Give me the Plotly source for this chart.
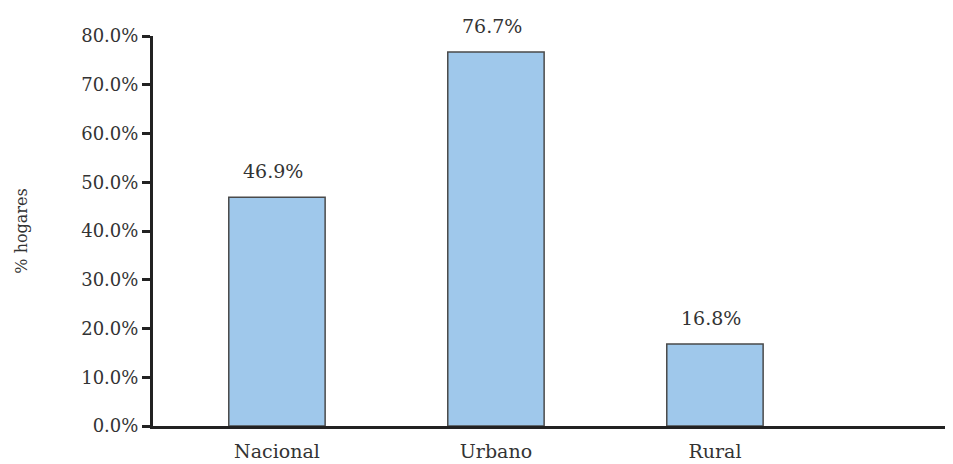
import plotly.graph_objects as go

categories = ["Nacional", "Urbano", "Rural"]
values = [46.9, 76.7, 16.8]
labels = ["46.9%", "76.7%", "16.8%"]
y_ticks = [0, 10, 20, 30, 40, 50, 60, 70, 80]
y_tick_labels = ["0.0%", "10.0%", "20.0%", "30.0%", "40.0%", "50.0%", "60.0%", "70.0%", "80.0%"]

FONT = "DejaVu Serif"

fig = go.Figure()
fig.add_trace(go.Bar(
    x=categories, y=values, width=0.44,
    marker=dict(color="#9fc8eb", line=dict(color="#4a4a4a", width=1.5)),
    hoverinfo="skip",
))
for c, v, t in zip(categories, values, labels):
    fig.add_annotation(x=c, y=v, text=t, showarrow=False, yshift=26, xshift=-4,
                       font=dict(family=FONT, size=19, color="#333"))

fig.update_layout(
    width=945, height=456,
    margin=dict(l=145, r=0, t=28, b=38),
    paper_bgcolor="white", plot_bgcolor="white",
    showlegend=False,
    font=dict(family=FONT, size=17, color="#333"),
)
fig.update_xaxes(
    type="category", range=[-0.566, 3.087],
    showline=True, linecolor="#222", linewidth=3,
    ticks="", showgrid=False, zeroline=False,
    ticklabelstandoff=6,
    tickfont=dict(family=FONT, size=19, color="#333"),
)
fig.update_yaxes(
    range=[0, 80], tickvals=y_ticks, ticktext=y_tick_labels,
    showline=True, linecolor="#222", linewidth=3,
    ticks="outside", ticklen=8, tickwidth=3, tickcolor="#222",
    showgrid=False, zeroline=False,
    tickfont=dict(family=FONT, size=18, color="#333"),
    title=dict(text="% hogares", standoff=50, font=dict(family=FONT, size=16, color="#333")),
)

fig.write_html("out.html")
